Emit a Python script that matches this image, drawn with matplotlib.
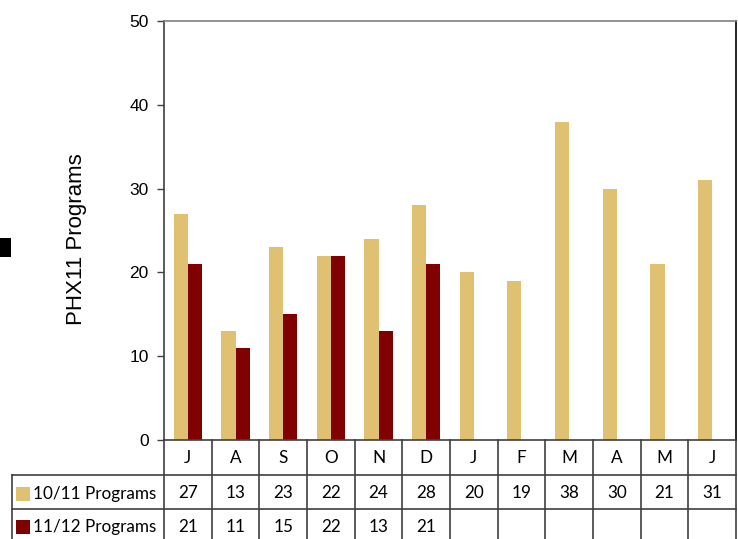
import matplotlib
matplotlib.use("Agg")
import matplotlib.pyplot as plt
import matplotlib.transforms as mtransforms
from matplotlib.lines import Line2D
from matplotlib.patches import Rectangle
import numpy as np

months = ["J", "A", "S", "O", "N", "D", "J", "F", "M", "A", "M", "J"]
programs_1011 = [27, 13, 23, 22, 24, 28, 20, 19, 38, 30, 21, 31]
programs_1112 = [21, 11, 15, 22, 13, 21]
series_names = ["10/11 Programs", "11/12 Programs"]
colors = ["#DFC171", "#800000"]

W, H = 738, 539
fig = plt.figure(figsize=(W / 100, H / 100), dpi=100)


def fx(px):
    return px / W


def fy(py):
    return 1 - py / H


ax = fig.add_axes([fx(164), fy(440), fx(736) - fx(164), fy(21) - fy(440)])

x = np.arange(len(months))
bw = 0.30
ax.bar(x - bw / 2, programs_1011, width=bw, color=colors[0])
x2 = np.arange(len(programs_1112))
ax.bar(x2 + bw / 2, programs_1112, width=bw, color=colors[1])

ax.set_xlim(-0.5, len(months) - 0.5)
ax.set_ylim(0, 50)
ax.set_yticks(range(0, 51, 10))
ax.set_xticks([])
ax.tick_params(axis="y", length=5, width=1, color="#404040", pad=6,
               labelsize=12.5)
for t in ax.get_yticklabels():
    t.set_fontfamily("Liberation Sans")

ax.set_ylabel("PHX11 Programs", fontsize=16, fontfamily="Liberation Sans")
ax.yaxis.set_label_coords(-0.134, 0.48)

ax.spines["top"].set_color("#808080")
ax.spines["right"].set_color("#000000")
ax.spines["left"].set_color("#404040")
ax.spines["bottom"].set_color("#404040")
for s in ax.spines.values():
    s.set_linewidth(1.2)

# data table under the axis
trans = mtransforms.blended_transform_factory(ax.transData, ax.transAxes)
axh = 440 - 21


def ay(py):
    return (440 - py) / axh


line_col = "#404040"
# vertical separators
for k in range(len(months) + 1):
    ax.add_line(Line2D([k - 0.5, k - 0.5], [0, ay(539)], transform=trans,
                       color=line_col, lw=1.2, clip_on=False))
# horizontal lines
for py in (475, 509):
    fig.add_artist(Line2D([fx(12), fx(736)], [fy(py), fy(py)],
                          color=line_col, lw=1.2))
fig.add_artist(Line2D([fx(12), fx(12)], [fy(475), fy(539)],
                      color=line_col, lw=1.2))

tfont = dict(fontfamily="Lato", fontsize=12.3, ha="center", va="center",
             color="#000000")
for i, m in enumerate(months):
    ax.text(i, ay(458), m, transform=trans, **tfont)
for i, v in enumerate(programs_1011):
    ax.text(i, ay(493), str(v), transform=trans, **tfont)
for i, v in enumerate(programs_1112):
    ax.text(i, ay(527), str(v), transform=trans, **tfont)

for j, (name, c) in enumerate(zip(series_names, colors)):
    cy = 494 + j * 33
    fig.add_artist(Rectangle((fx(16), fy(cy + 7)), fx(14), 14 / H,
                             facecolor=c, edgecolor="none"))
    fig.text(fx(33), fy(cy), name, fontfamily="Lato", fontsize=12.3,
             ha="left", va="center")

# stray black marker at left edge
fig.add_artist(Rectangle((0, fy(257)), fx(11), 19 / H,
                         facecolor="#000000", edgecolor="none"))

fig.savefig("out.png", dpi=100)
